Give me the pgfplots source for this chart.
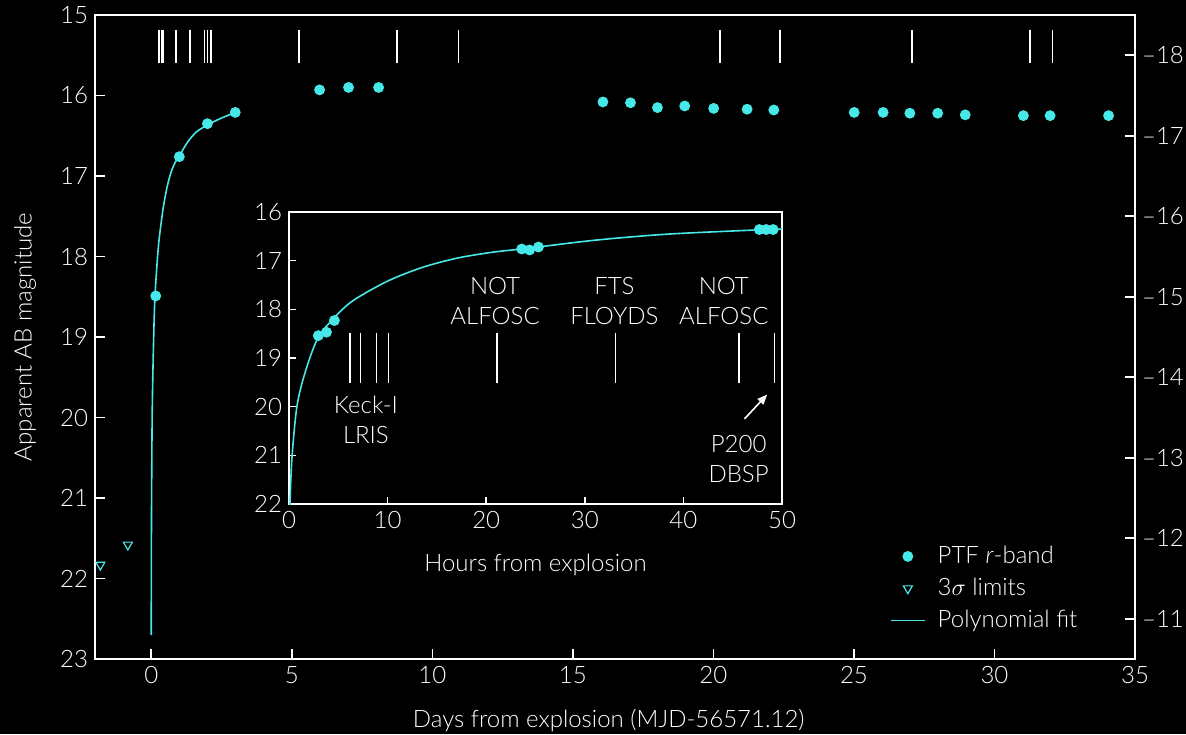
\documentclass[border=0pt]{standalone}
\usepackage{fontspec}
\setmainfont{Lato}[UprightFont=* Light, ItalicFont=* Light Italic]
\usepackage{pgfplots}
\usepackage{pgfplotstable}
\pgfplotsset{compat=1.18}
\usetikzlibrary{arrows.meta}
\definecolor{ptfcyan}{RGB}{70,232,232}

% Polynomial fit to the rise (time in hours, apparent magnitude)
\pgfplotstableread{
h m
0.05 22.70
0.10 22.00
0.30 21.05
0.80 20.00
1.60 19.32
2.90 18.60
4.60 18.17
6.50 17.82
10.0 17.42
13.5 17.14
17.0 16.95
20.5 16.83
24.0 16.75
31.0 16.58
38.0 16.46
45.0 16.39
50.0 16.35
60.0 16.28
72.0 16.21
}\fitdata

% PTF r-band photometry during the first two nights (hours)
\pgfplotstableread{
h m
2.97 18.54
3.80 18.47
4.60 18.23
23.6 16.76
24.4 16.78
25.3 16.72
47.7 16.36
48.4 16.36
49.1 16.36
}\earlydata

% PTF r-band photometry, nightly values (days)
\pgfplotstableread{
d m
0.16 18.49
1.00 16.76
2.00 16.35
2.99 16.21
5.99 15.93
7.02 15.90
8.09 15.90
16.07 16.08
17.05 16.09
18.01 16.15
18.98 16.13
20.01 16.16
21.20 16.17
22.15 16.18
25.01 16.21
26.04 16.21
26.99 16.22
27.98 16.22
28.96 16.24
31.03 16.25
31.98 16.25
34.06 16.25
}\nightdata

% 3-sigma upper limits before explosion (days)
\pgfplotstableread{
d m
-1.81 21.83
-0.83 21.58
}\limitdata

% Epochs of spectroscopy (days), drawn as short vertical bars
\pgfplotstableread{
x y
0.257 15.18
0.257 15.59
nan nan
0.301 15.18
0.301 15.59
nan nan
0.371 15.18
0.371 15.59
nan nan
0.420 15.18
0.420 15.59
nan nan
0.879 15.18
0.879 15.59
nan nan
1.381 15.18
1.381 15.59
nan nan
1.900 15.18
1.900 15.59
nan nan
2.010 15.18
2.010 15.59
nan nan
2.120 15.18
2.120 15.59
nan nan
5.26 15.18
5.26 15.59
nan nan
8.75 15.18
8.75 15.59
nan nan
10.93 15.18
10.93 15.59
nan nan
20.23 15.18
20.23 15.59
nan nan
22.37 15.18
22.37 15.59
nan nan
27.07 15.18
27.07 15.59
nan nan
31.27 15.18
31.27 15.59
nan nan
32.06 15.18
32.06 15.59
}\specdays

% Spectroscopy epochs in the first two nights (hours)
\pgfplotstableread{
x y
6.18 18.48
6.18 19.51
nan nan
7.23 18.48
7.23 19.51
nan nan
8.90 18.48
8.90 19.51
nan nan
10.09 18.48
10.09 19.51
nan nan
21.09 18.48
21.09 19.51
nan nan
33.14 18.48
33.14 19.51
nan nan
45.64 18.48
45.64 19.51
nan nan
49.23 18.48
49.23 19.51
}\spechours

\pgfplotsset{
  darkaxis/.style={
    scale only axis,
    y dir=reverse,
    tick align=inside,
    axis line style={draw=white, line width=0.8pt},
    tick style={white, line width=0.8pt},
    tick label style={white},
    label style={white},
    /pgf/number format/assume math mode=true,
  },
  ptfmark/.style={only marks, mark=*, mark size=2.5pt,
    mark options={draw=ptfcyan, fill=ptfcyan}},
}

\begin{document}
\begin{tikzpicture}[font=\fontsize{12}{15}\selectfont]
\fill[black] (-47.5pt,-37.5pt) rectangle (545.5pt,329.5pt);

% main light curve
\begin{axis}[darkaxis,
  at={(0pt,0pt)}, anchor=south west,
  width=520pt, height=322pt,
  xmin=-2, xmax=35, ymin=15, ymax=23,
  xtick={0,5,...,35}, ytick={15,...,23},
  tick pos=left, major tick length=5pt,
  xlabel={Days from explosion (MJD-56571.12)},
  ylabel={Apparent AB magnitude},
  xlabel style={at={(axis description cs:0.494,-0.0947)}, anchor=center},
  ylabel style={at={(axis description cs:-0.0673,0.5)}, anchor=center},
  legend style={at={(0.764,0.182)}, anchor=north west, draw=none, fill=none,
    text=white, inner sep=0pt, row sep=1.8pt,
    font=\fontsize{12}{15}\selectfont,
    /tikz/every odd column/.append style={column sep=4pt}},
  legend cell align=left,
]
\addplot[ptfcyan, line width=0.8pt, smooth, forget plot]
  table[x expr=\thisrow{h}/24, y=m] {\fitdata};
\addplot[white, line width=0.7pt, forget plot, unbounded coords=jump]
  table[x=x, y=y] {\specdays};
\addplot[ptfmark] table[x=d, y=m] {\nightdata};
\addlegendentry{PTF \textit{r}-band}
\addplot[only marks, mark=triangle, mark size=2.6pt,
  mark options={draw=ptfcyan, rotate=180, line width=0.6pt}]
  table[x=d, y=m] {\limitdata};
\addlegendentry{3$\sigma$ limits}
\addlegendimage{draw=ptfcyan, color=ptfcyan, line width=0.8pt, mark=none, sharp plot}
\addlegendentry{Polynomial fit}
\end{axis}

% absolute magnitude scale on the right
\begin{axis}[darkaxis,
  at={(0pt,0pt)}, anchor=south west,
  width=520pt, height=322pt,
  xmin=-2, xmax=35, ymin=-18.5, ymax=-10.5,
  axis x line=none, axis y line*=right,
  ytick={-18,...,-11},
  yticklabels={–18,–17,–16,–15,–14,–13,–12,–11},
  major tick length=5pt,
]
\end{axis}

% inset: first two nights
\begin{axis}[darkaxis,
  at={(97pt,77.5pt)}, anchor=south west,
  width=246.5pt, height=146pt,
  xmin=0, xmax=50, ymin=16, ymax=22,
  xtick={0,10,...,50}, ytick={16,...,22},
  tick pos=left, major tick length=3.5pt,
  axis background/.style={fill=black},
  xlabel={Hours from explosion},
  xlabel style={at={(axis description cs:0.5,-0.2089)}, anchor=center},
]
\addplot[ptfcyan, line width=0.8pt, smooth] table[x=h, y=m] {\fitdata};
\addplot[white, line width=0.7pt, unbounded coords=jump] table[x=x, y=y] {\spechours};
\addplot[ptfmark] table[x=h, y=m] {\earlydata};
\node[white, align=center, inner sep=0pt] at (axis cs:7.8,20.28) {Keck-I\\LRIS};
\node[white, align=center, inner sep=0pt] at (axis cs:20.9,17.83) {NOT\\ALFOSC};
\node[white, align=center, inner sep=0pt] at (axis cs:33.0,17.83) {FTS\\FLOYDS};
\node[white, align=center, inner sep=0pt] at (axis cs:44.1,17.83) {NOT\\ALFOSC};
\node[white, align=center, inner sep=0pt] at (axis cs:45.6,21.07) {P200\\DBSP};
\draw[white, line width=0.8pt, -{Triangle[length=5pt, width=4pt]}]
  (axis cs:46.2,20.25) -- (axis cs:48.5,19.75);
\end{axis}

\pgfresetboundingbox
\useasboundingbox (-47.5pt,-37.5pt) rectangle (545.5pt,329.5pt);
\end{tikzpicture}
\end{document}
